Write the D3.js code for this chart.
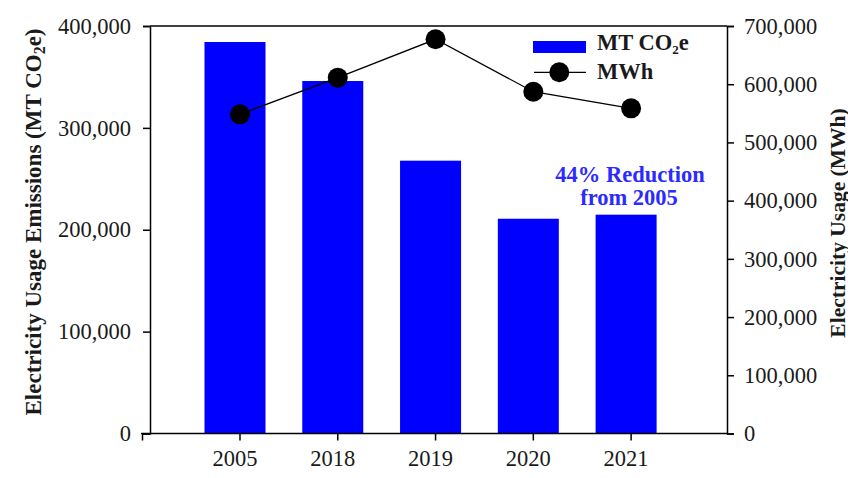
<!DOCTYPE html>
<html>
<head>
<meta charset="utf-8">
<title>Electricity Usage Emissions</title>
<style>
  body { margin: 0; background: #fff; }
  svg text { font-family: "Liberation Serif", "Times New Roman", serif; fill: #1a1a1a; }
</style>
</head>
<body>
<svg width="848" height="478"></svg>
<script src="https://d3js.org/d3.v7.min.js"></script>
<script>

// data
var years = ["2005", "2018", "2019", "2020", "2021"];
var emissions = [384300, 346000, 267800, 210800, 214800];   // MT CO2e (bars, left axis)
var usage = [548300, 611200, 677200, 587100, 558600];       // MWh (line, right axis)
var leftTicks = [0, 100000, 200000, 300000, 400000];
var rightTicks = [0, 100000, 200000, 300000, 400000, 500000, 600000, 700000];

var svg = d3.select("svg");

// plot box (window.top is reserved, so use other names)
var plotL = 150, plotR = 727, plotT = 26, plotB = 433.5;

var x = d3.scaleBand()
    .domain(years)
    .range([191.1, 680]);

var yL = d3.scaleLinear().domain([0, 400000]).range([plotB, plotT]);
var yR = d3.scaleLinear().domain([0, 700000]).range([plotB, plotT]);

var fmt = d3.format(",");
var barW = 61, barShift = -5;
var fs = 22.5;

function cx(d) { return x(d) + x.bandwidth() / 2; }

// bars
svg.append("g")
  .selectAll("rect")
  .data(years)
  .enter().append("rect")
    .attr("x", function(d) { return cx(d) + barShift - barW / 2; })
    .attr("y", function(d, i) { return yL(emissions[i]); })
    .attr("width", barW)
    .attr("height", function(d, i) { return plotB - yL(emissions[i]); })
    .attr("fill", "#0000ff");

// frame top line
svg.append("line")
    .attr("x1", plotL).attr("x2", plotR)
    .attr("y1", plotT).attr("y2", plotT)
    .attr("stroke", "#000").attr("stroke-width", 1.5);

// left axis
var gL = svg.append("g")
    .attr("transform", "translate(" + plotL + ",0)")
    .call(d3.axisLeft(yL).tickValues(leftTicks).tickFormat(fmt).tickSize(7).tickPadding(12));
gL.selectAll("text").attr("font-size", fs);

// right axis
var gR = svg.append("g")
    .attr("transform", "translate(" + plotR + ",0)")
    .call(d3.axisRight(yR).tickValues(rightTicks).tickFormat(fmt).tickSize(7).tickPadding(10));
gR.selectAll("text").attr("font-size", fs);

// bottom axis
var gB = svg.append("g")
    .attr("transform", "translate(0," + plotB + ")")
    .call(d3.axisBottom(x).tickSize(7).tickPadding(10).tickSizeOuter(0));
gB.select(".domain").attr("d", "M141,0H" + plotR);
gB.selectAll("text").attr("font-size", fs).attr("dx", -5);
gB.append("line")
    .attr("x1", 142.5).attr("x2", 142.5)
    .attr("y1", 0).attr("y2", 7)
    .attr("stroke", "#000");

svg.selectAll(".domain, .tick line").attr("stroke", "#000").attr("stroke-width", 1.5);
gB.select("line:last-child").attr("stroke-width", 1.5);

// line series
var line = d3.line()
    .x(function(d, i) { return cx(years[i]); })
    .y(function(d) { return yR(d); });

svg.append("path")
    .datum(usage)
    .attr("fill", "none")
    .attr("stroke", "#000")
    .attr("stroke-width", 1.3)
    .attr("d", line);

svg.append("g")
  .selectAll("circle")
  .data(usage)
  .enter().append("circle")
    .attr("cx", function(d, i) { return cx(years[i]); })
    .attr("cy", function(d) { return yR(d); })
    .attr("r", 10)
    .attr("fill", "#000");

// axis titles
var tL = svg.append("text")
    .attr("transform", "translate(41,222) rotate(-90)")
    .attr("text-anchor", "middle")
    .attr("font-size", 23)
    .attr("font-weight", "bold");
tL.append("tspan").text("Electricity Usage Emissions (MT CO");
tL.append("tspan").attr("baseline-shift", "-25%").attr("font-size", 16).text("2");
tL.append("tspan").text("e)");

svg.append("text")
    .attr("transform", "translate(845,223) rotate(-90)")
    .attr("text-anchor", "middle")
    .attr("font-size", 21.5)
    .attr("font-weight", "bold")
    .text("Electricity Usage (MWh)");

// legend
var lg = svg.append("g");
lg.append("rect")
    .attr("x", 533).attr("y", 41)
    .attr("width", 53).attr("height", 12)
    .attr("fill", "#0000ff");
var lt = lg.append("text")
    .attr("x", 597).attr("y", 50)
    .attr("font-size", fs).attr("font-weight", "bold");
lt.append("tspan").text("MT CO");
lt.append("tspan").attr("baseline-shift", "-30%").attr("font-size", 13).text("2");
lt.append("tspan").text("e");
lg.append("line")
    .attr("x1", 534).attr("x2", 586)
    .attr("y1", 72.3).attr("y2", 72.3)
    .attr("stroke", "#000").attr("stroke-width", 1.3);
lg.append("circle")
    .attr("cx", 559.3).attr("cy", 72.3).attr("r", 10).attr("fill", "#000");
lg.append("text")
    .attr("x", 597).attr("y", 79.3)
    .attr("font-size", fs).attr("font-weight", "bold")
    .text("MWh");

// annotation
var ann = svg.append("text")
    .attr("text-anchor", "middle")
    .attr("font-size", fs)
    .attr("font-weight", "bold")
    .style("fill", "#2b2bff");
ann.append("tspan").attr("x", 630).attr("y", 182).text("44% Reduction");
ann.append("tspan").attr("x", 629).attr("y", 205).text("from 2005");

</script>
</body>
</html>
